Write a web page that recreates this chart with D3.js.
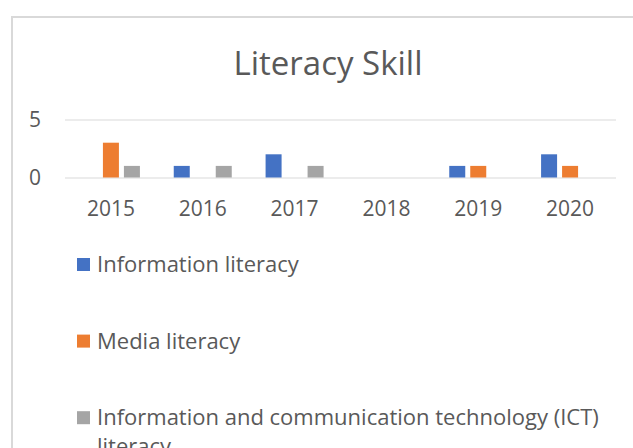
<!DOCTYPE html>
<html>
<head>
<meta charset="utf-8">
<script src="https://cdn.jsdelivr.net/npm/d3@7"></script>
<style>
  body { margin: 0; background: #fff; }
  text { font-family: "Open Sans", sans-serif; fill: #595959; }
</style>
</head>
<body>
<svg id="chart" width="633" height="448"></svg>
<script>
// data
const years = ["2015", "2016", "2017", "2018", "2019", "2020"];
const seriesNames = ["Information literacy", "Media literacy", "Information and communication technology (ICT) literacy"];
const infoLiteracy = [0, 1, 2, 0, 1, 2];
const mediaLiteracy = [3, 0, 0, 0, 1, 1];
const ictLiteracy = [1, 1, 1, 0, 0, 0];
const yTicks = [0, 5];
const colors = ["#4472C4", "#ED7D31", "#A5A5A5"];

const seriesValues = [infoLiteracy, mediaLiteracy, ictLiteracy];
const rows = years.map((y, i) => ({
  year: y,
  vals: seriesNames.map((s, j) => ({ key: s, value: seriesValues[j][i] }))
}));

const svg = d3.select('#chart');

// outer chart border (runs off the page at right and bottom)
svg.append('rect')
  .attr('x', 12).attr('y', 17)
  .attr('width', 700).attr('height', 500)
  .attr('fill', 'none')
  .attr('stroke', '#d9d9d9')
  .attr('stroke-width', 2);

svg.append('text')
  .attr('x', 328).attr('y', 75)
  .attr('text-anchor', 'middle')
  .style('font-size', '33px')
  .text('Literacy Skill');

let PLOT_LEFT = 65, PLOT_RIGHT = 616;

// scales
let x0 = d3.scaleBand()
  .domain(years)
  .range([PLOT_LEFT, PLOT_RIGHT])
  .paddingInner(0.314)
  .paddingOuter(0.157);

let x1 = d3.scaleBand()
  .domain(seriesNames)
  .range([0, x0.bandwidth()]);

let yScale = d3.scaleLinear()
  .domain([0, 5])
  .range([177.5, 119.5]);

let color = d3.scaleOrdinal().domain(seriesNames).range(colors);

// y axis: gridlines + labels
let yAxis = svg.append('g')
  .attr('transform', `translate(${PLOT_LEFT},0)`)
  .call(d3.axisLeft(yScale)
    .tickValues(yTicks)
    .tickFormat(d3.format('d'))
    .tickSize(-(PLOT_RIGHT - PLOT_LEFT))
    .tickPadding(24));
yAxis.select('.domain').remove();
yAxis.selectAll('line').attr('stroke', '#d9d9d9');
yAxis.selectAll('text')
  .style('font-size', '21px')
  .style('font-family', '"Open Sans", sans-serif')
  .attr('fill', '#595959');

// bars
let GAP = 5;
svg.append('g')
  .selectAll('g')
  .data(rows)
  .join('g')
  .attr('transform', d => `translate(${x0(d.year)},0)`)
  .selectAll('rect')
  .data(d => d.vals)
  .join('rect')
  .attr('x', d => x1(d.key) + GAP / 2)
  .attr('width', x1.bandwidth() - GAP)
  .attr('y', d => yScale(d.value))
  .attr('height', d => yScale(0) - yScale(d.value))
  .attr('fill', d => color(d.key));

// x axis labels
let xAxis = svg.append('g')
  .attr('transform', `translate(0,${yScale(0)})`)
  .call(d3.axisBottom(x0).tickSize(0).tickPadding(24));
xAxis.select('.domain').remove();
xAxis.selectAll('text')
  .style('font-size', '21px')
  .style('font-family', '"Open Sans", sans-serif')
  .attr('fill', '#595959');

// legend
let LEG_TOP = 272, LEG_STEP = 76.6, WRAP = 528;
let legend = svg.append('g')
  .selectAll('g')
  .data(seriesNames)
  .join('g')
  .attr('transform', (d, i) => `translate(77,${LEG_TOP + i * LEG_STEP})`);

legend.append('rect')
  .attr('x', 0).attr('y', -14)
  .attr('width', 13).attr('height', 13)
  .attr('fill', d => color(d));

legend.append('text')
  .attr('x', 20)
  .style('font-size', '22px')
  .each(function(d) {
    let t = d3.select(this);
    let words = d.split(' ');
    let line = [];
    let tspan = t.append('tspan').attr('x', 20).attr('dy', 0);
    words.forEach(w => {
      line.push(w);
      tspan.text(line.join(' '));
      if (tspan.node().getComputedTextLength() > WRAP && line.length > 1) {
        line.pop();
        tspan.text(line.join(' '));
        line = [w];
        tspan = t.append('tspan').attr('x', 20).attr('dy', 29).text(w);
      }
    });
  });
</script>
</body>
</html>
